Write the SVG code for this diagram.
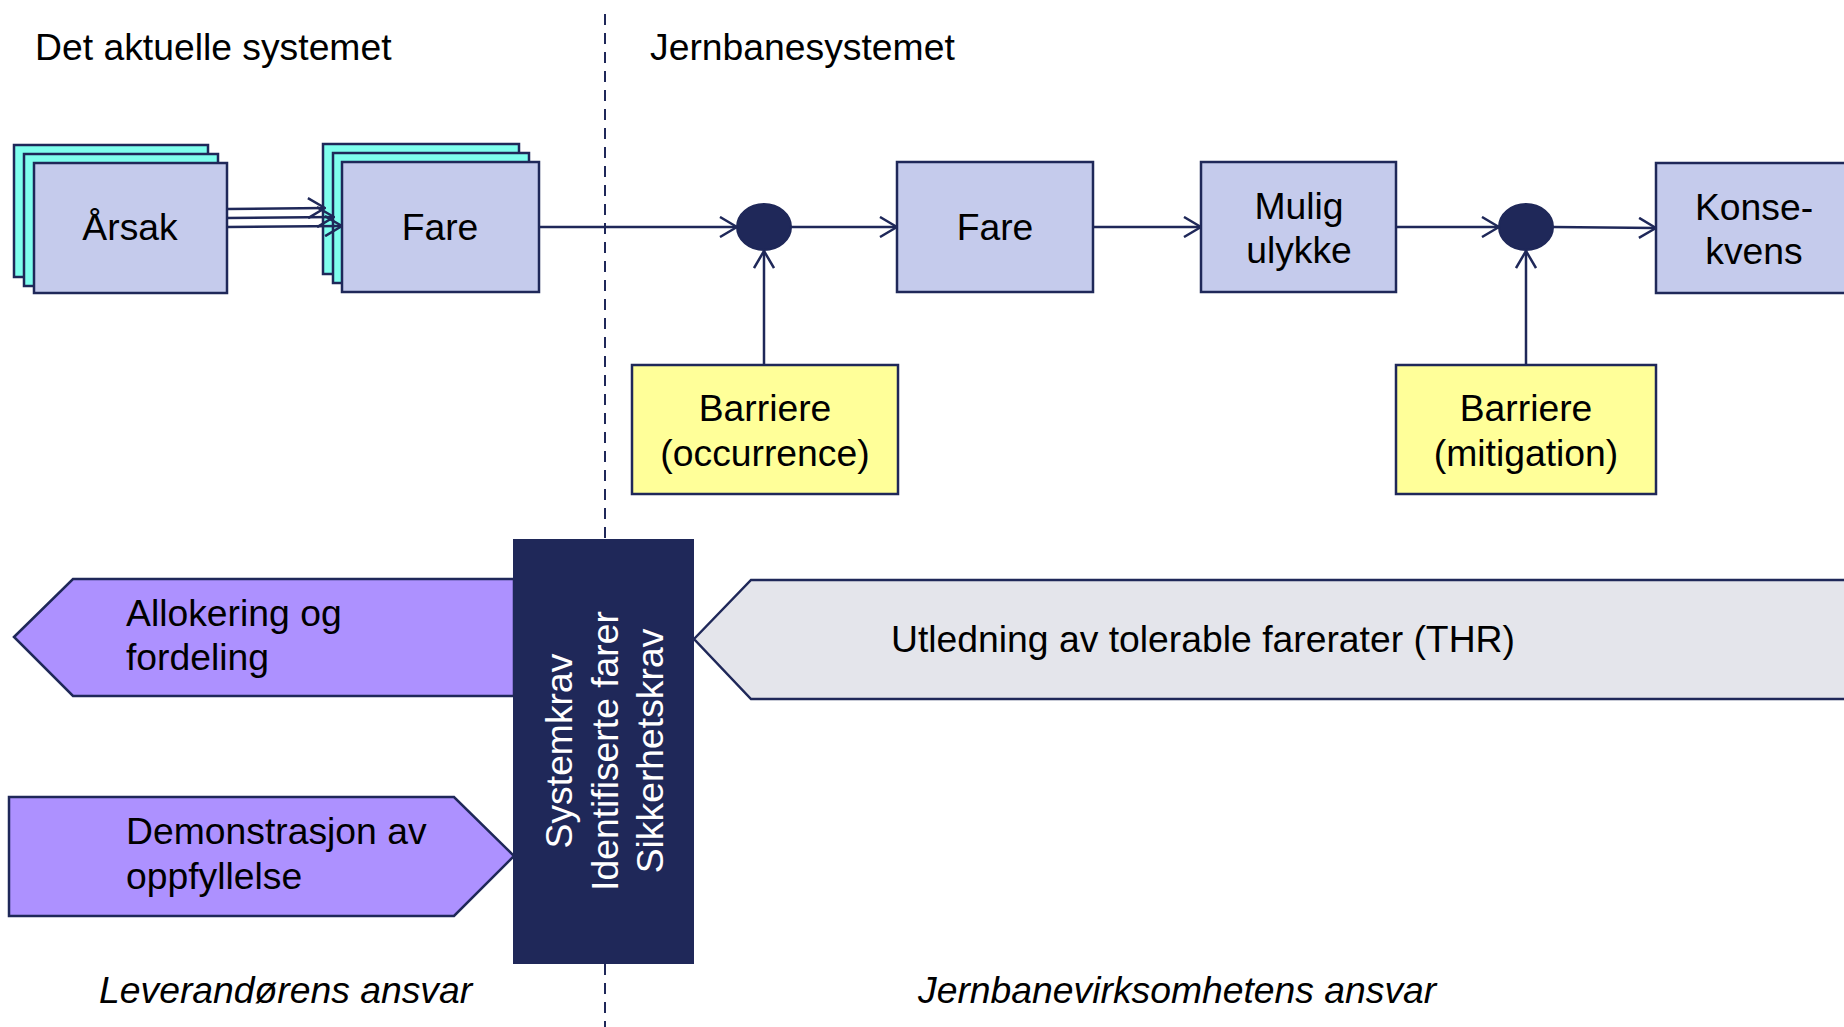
<svg xmlns="http://www.w3.org/2000/svg" width="1844" height="1027" viewBox="0 0 1844 1027">
<style>
text{font-family:"Liberation Sans",Arial,sans-serif;font-size:37.3px;fill:#000}
.c{text-anchor:middle}
.it{font-style:italic}
.w{fill:#fff}
.box{fill:#C5CBEC;stroke:#1F2859;stroke-width:2.5}
.cy{fill:#7FFFEE;stroke:#1F2859;stroke-width:2.5}
.ye{fill:#FFFF99;stroke:#1F2859;stroke-width:2.5}
.pu{fill:#AD91FF;stroke:#1F2859;stroke-width:2.5}
.gr{fill:#E4E5EB;stroke:#1F2859;stroke-width:2.5}
.dk{fill:#1F2859;stroke:#1F2859;stroke-width:2}
.ln{fill:none;stroke:#1F2859;stroke-width:2.5}
.dash{fill:none;stroke:#1F2859;stroke-width:2;stroke-dasharray:11 8}
</style>
<defs>
<marker id="ah" viewBox="0 0 20 22" refX="19" refY="11" markerWidth="20" markerHeight="22" markerUnits="userSpaceOnUse" orient="auto">
<path d="M2,1 L19,11 L2,21" fill="none" stroke="#1F2859" stroke-width="2.5"/>
</marker>
</defs>
<rect width="1844" height="1027" fill="#fff"/>
<line class="dash" x1="605" y1="14" x2="605" y2="1027"/>
<text x="35" y="60">Det aktuelle systemet</text>
<text x="650" y="60">Jernbanesystemet</text>
<g id="arsak">
<rect class="cy" x="14" y="145" width="194" height="132"/>
<rect class="cy" x="24" y="154" width="194" height="132"/>
<rect class="box" x="34" y="163" width="193" height="130"/>
<text class="c" x="130" y="240">Årsak</text>
</g>
<g id="fare1">
<rect class="cy" x="323" y="144" width="196" height="130"/>
<rect class="cy" x="333" y="153" width="196" height="130"/>
<rect class="box" x="342" y="162" width="197" height="130"/>
<text class="c" x="440" y="240">Fare</text>
</g>
<g id="circle1"><ellipse class="dk" cx="764" cy="227" rx="27" ry="23"/></g>
<g id="fare2">
<rect class="box" x="897" y="162" width="196" height="130"/>
<text class="c" x="995" y="240">Fare</text>
</g>
<g id="mulig">
<rect class="box" x="1201" y="162" width="195" height="130"/>
<text class="c" x="1299" y="219">Mulig</text>
<text class="c" x="1299" y="263">ulykke</text>
</g>
<g id="circle2"><ellipse class="dk" cx="1526" cy="227" rx="27" ry="23"/></g>
<g id="konsekvens">
<rect class="box" x="1656" y="163" width="200" height="130"/>
<text class="c" x="1754" y="220">Konse-</text>
<text class="c" x="1754" y="264">kvens</text>
</g>
<g id="barriere1">
<rect class="ye" x="632" y="365" width="266" height="129"/>
<text class="c" x="765" y="421">Barriere</text>
<text class="c" x="765" y="466">(occurrence)</text>
</g>
<g id="barriere2">
<rect class="ye" x="1396" y="365" width="260" height="129"/>
<text class="c" x="1526" y="421">Barriere</text>
<text class="c" x="1526" y="466">(mitigation)</text>
</g>
<g id="connectors">
<line class="ln" x1="227" y1="209" x2="325" y2="208" marker-end="url(#ah)"/>
<line class="ln" x1="227" y1="218" x2="334" y2="217" marker-end="url(#ah)"/>
<line class="ln" x1="227" y1="227" x2="342" y2="226" marker-end="url(#ah)"/>
<line class="ln" x1="539" y1="227" x2="737" y2="227" marker-end="url(#ah)"/>
<line class="ln" x1="791" y1="227" x2="897" y2="227" marker-end="url(#ah)"/>
<line class="ln" x1="1093" y1="227" x2="1201" y2="227" marker-end="url(#ah)"/>
<line class="ln" x1="1396" y1="227" x2="1499" y2="227" marker-end="url(#ah)"/>
<line class="ln" x1="1553" y1="227" x2="1656" y2="228" marker-end="url(#ah)"/>
<line class="ln" x1="764" y1="365" x2="764" y2="251" marker-end="url(#ah)"/>
<line class="ln" x1="1526" y1="365" x2="1526" y2="251" marker-end="url(#ah)"/>
</g>
<g id="allokering">
<polygon class="pu" points="14,637 73,579 514,579 514,696 73,696"/>
<text x="126" y="626">Allokering og</text>
<text x="126" y="670">fordeling</text>
</g>
<g id="demonstrasjon">
<polygon class="pu" points="9,797 454,797 514,856 454,916 9,916"/>
<text x="126" y="844">Demonstrasjon av</text>
<text x="126" y="889">oppfyllelse</text>
</g>
<g id="utledning">
<polygon class="gr" points="694,639 751,580 1846,580 1846,699 751,699"/>
<text x="891" y="652">Utledning av tolerable farerater (THR)</text>
</g>
<g id="systemkrav">
<rect class="dk" x="514" y="540" width="179" height="423"/>
<text class="c w" transform="translate(572,751) rotate(-90)">Systemkrav</text>
<text class="c w" transform="translate(618,751) rotate(-90)">Identifiserte farer</text>
<text class="c w" transform="translate(663,751) rotate(-90)">Sikkerhetskrav</text>
</g>
<text class="it" x="99" y="1003">Leverandørens ansvar</text>
<text class="it" x="918" y="1003">Jernbanevirksomhetens ansvar</text>
</svg>
